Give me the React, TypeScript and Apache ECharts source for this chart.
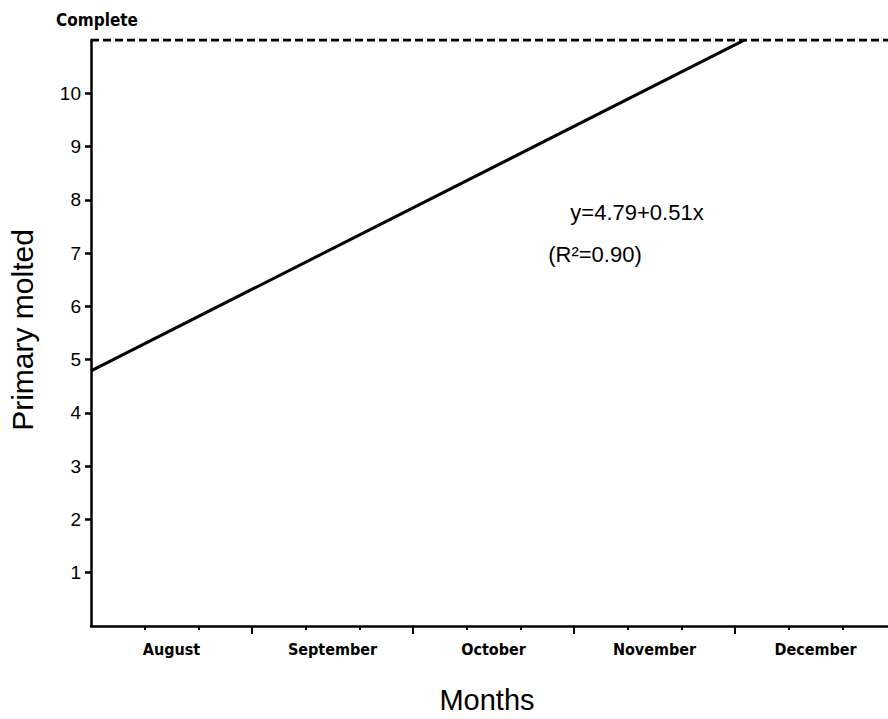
import React, { useEffect, useRef } from "react";
import * as echarts from "echarts";

const months = ["August", "September", "October", "November", "December"];
const monthLabelPositions = [1.5, 4.5, 7.5, 10.5, 13.5];
const minorTicks = [1, 2, 4, 5, 7, 8, 10, 11, 13, 14];
const majorTicks = [3, 6, 9, 12];
const yTicks = [1, 2, 3, 4, 5, 6, 7, 8, 9, 10];
const intercept = 4.79;
const slope = 0.51;
const lineXStart = 0;
const lineXEnd = 12.18;
const completeLevel = 11;
const xMax = 14.85;

const condensed = "'DejaVu Sans Condensed', 'Liberation Sans Narrow', sans-serif";
const sans = "'Liberation Sans', Arial, Helvetica, sans-serif";

export default function App() {
  const ref = useRef<HTMLDivElement>(null);
  useEffect(() => {
    if (!ref.current) return;
    const chart = echarts.init(ref.current, null, { renderer: "svg" });
    const regression = [
      [lineXStart, intercept + slope * lineXStart],
      [lineXEnd, intercept + slope * lineXEnd],
    ];
    const completeLine = [
      [0, completeLevel],
      [xMax, completeLevel],
    ];
    chart.setOption({
      animation: false,
      backgroundColor: "#ffffff",
      grid: { left: 91, top: 40, right: 0, bottom: 93, containLabel: false },
      xAxis: [
        {
          type: "value",
          min: 0,
          max: xMax,
          position: "bottom",
          splitLine: { show: false },
          axisLine: { show: true, lineStyle: { color: "#000", width: 2.5 } },
          axisTick: {
            show: true,
            customValues: minorTicks,
            length: 4,
            lineStyle: { color: "#000", width: 2 },
          },
          axisLabel: {
            customValues: monthLabelPositions,
            formatter: (v: number) => {
              const i = Math.round((v - 1.5) / 3);
              return months[i] ?? "";
            },
            color: "#000",
            fontFamily: condensed,
            fontWeight: "bold",
            fontSize: 16,
            margin: 15,
          },
        },
        {
          type: "value",
          min: 0,
          max: xMax,
          position: "bottom",
          splitLine: { show: false },
          axisLine: { show: false },
          axisTick: {
            show: true,
            customValues: majorTicks,
            length: 8,
            lineStyle: { color: "#000", width: 2 },
          },
          axisLabel: { show: false },
        },
      ],
      yAxis: {
        type: "value",
        min: 0,
        max: 11,
        interval: 1,
        splitLine: { show: false },
        axisLine: { show: true, lineStyle: { color: "#000", width: 2.5 } },
        axisTick: {
          show: true,
          customValues: yTicks,
          length: 6,
          lineStyle: { color: "#000", width: 2.5 },
        },
        axisLabel: {
          customValues: yTicks,
          color: "#000",
          fontFamily: sans,
          fontSize: 19,
          margin: 10,
        },
      },
      series: [
        {
          type: "line",
          data: regression,
          symbol: "none",
          lineStyle: { color: "#000", width: 3 },
        },
        {
          type: "line",
          data: completeLine,
          symbol: "none",
          lineStyle: { color: "#000", width: 3, type: [8, 4] },
        },
      ],
      graphic: [
        {
          type: "text",
          x: 97,
          y: 20,
          style: {
            text: "Complete",
            fontFamily: condensed,
            fontWeight: "bold",
            fontSize: 17,
            fill: "#000",
            align: "center",
            verticalAlign: "middle",
          },
        },
        {
          type: "text",
          x: 637,
          y: 212,
          style: {
            text: "y=4.79+0.51x",
            fontFamily: sans,
            fontSize: 22,
            fill: "#000",
            align: "center",
            verticalAlign: "middle",
          },
        },
        {
          type: "text",
          x: 595,
          y: 254,
          style: {
            text: "(R²=0.90)",
            fontFamily: sans,
            fontSize: 22,
            fill: "#000",
            align: "center",
            verticalAlign: "middle",
          },
        },
        {
          type: "text",
          x: 22,
          y: 330,
          rotation: Math.PI / 2,
          style: {
            text: "Primary molted",
            fontFamily: sans,
            fontSize: 30,
            fill: "#000",
            align: "center",
            verticalAlign: "middle",
          },
        },
        {
          type: "text",
          x: 487,
          y: 700,
          style: {
            text: "Months",
            fontFamily: sans,
            fontSize: 29,
            fill: "#000",
            align: "center",
            verticalAlign: "middle",
          },
        },
      ],
    });
    return () => chart.dispose();
  }, []);
  return (
    <div
      ref={ref}
      style={{ position: "absolute", left: 0, top: 0, width: 888, height: 719 }}
    />
  );
}
